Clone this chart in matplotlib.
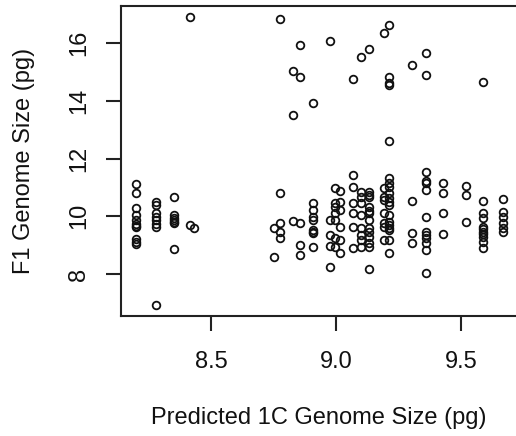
import matplotlib
matplotlib.use("Agg")
import matplotlib.pyplot as plt

# Predicted 1C genome size columns (pg) and the F1 genome sizes observed at each
pred_8_20 = [11.12, 10.80, 10.28, 10.05, 9.88, 9.74, 9.68, 9.62, 9.20, 9.12, 9.04]
pred_8_28 = [10.51, 10.39, 10.11, 9.99, 9.87, 9.73, 9.64, 6.93]
pred_8_35 = [10.68, 10.05, 9.93, 9.88, 9.81, 9.76, 8.87]
pred_8_415 = [9.70, 16.92]
pred_8_43 = [9.58]
pred_8_75 = [9.59, 8.58]
pred_8_775 = [10.80, 9.76, 9.47, 9.24, 16.84]
pred_8_825 = [9.85, 15.05, 13.51]
pred_8_855 = [9.76, 9.01, 8.66, 15.94, 14.84]
pred_8_905 = [10.45, 10.22, 9.99, 9.87, 9.53, 9.47, 9.41, 8.95, 13.92]
pred_8_975 = [9.87, 9.35, 8.97, 8.25, 16.08]
pred_8_995 = [10.97, 10.45, 10.33, 10.11, 9.87, 9.24, 8.93]
pred_9_015 = [10.89, 10.51, 10.22, 9.64, 9.18, 8.74]
pred_9_065 = [11.43, 11.03, 10.45, 10.13, 9.64, 8.89, 14.76]
pred_9_10 = [10.85, 10.68, 10.45, 10.05, 9.59, 9.35, 9.18, 8.93, 15.51]
pred_9_13 = [10.85, 10.75, 10.68, 10.33, 10.20, 10.11, 9.87, 9.59, 9.45, 9.29,
             9.06, 8.93, 8.16, 15.80]
pred_9_19 = [10.97, 10.68, 10.57, 10.11, 9.76, 9.64, 9.18, 16.35]
pred_9_21 = [11.32, 11.15, 11.03, 10.80, 10.63, 10.51, 10.39, 10.05, 9.81, 9.70,
             9.60, 9.53, 9.18, 8.72, 16.63, 14.84, 14.61, 14.55, 12.61]
pred_9_30 = [10.54, 9.41, 9.06, 15.25]
pred_9_36 = [11.55, 11.24, 11.15, 10.91, 9.97, 9.47, 9.35, 9.24, 9.06, 8.83, 8.03,
             15.65, 14.90]
pred_9_425 = [11.17, 10.80, 10.13, 9.39]
pred_9_52 = [11.05, 10.74, 9.81]
pred_9_585 = [10.54, 10.11, 9.93, 9.64, 9.55, 9.47, 9.38, 9.29, 9.12, 8.89, 14.67]
pred_9_665 = [10.59, 10.16, 9.97, 9.76, 9.59, 9.47]

columns = {
    8.20: pred_8_20, 8.28: pred_8_28, 8.35: pred_8_35, 8.415: pred_8_415,
    8.43: pred_8_43, 8.75: pred_8_75, 8.775: pred_8_775, 8.825: pred_8_825,
    8.855: pred_8_855, 8.905: pred_8_905, 8.975: pred_8_975, 8.995: pred_8_995,
    9.015: pred_9_015, 9.065: pred_9_065, 9.10: pred_9_10, 9.13: pred_9_13,
    9.19: pred_9_19, 9.21: pred_9_21, 9.30: pred_9_30, 9.36: pred_9_36,
    9.425: pred_9_425, 9.52: pred_9_52, 9.585: pred_9_585, 9.665: pred_9_665,
}

x_ticks = [8.5, 9.0, 9.5]
x_tick_labels = ["8.5", "9.0", "9.5"]
y_ticks = [8, 10, 12, 14, 16]
y_tick_labels = ["8", "10", "12", "14", "16"]

xs, ys = [], []
for xv, yl in columns.items():
    for yv in yl:
        xs.append(xv)
        ys.append(yv)

plt.rcParams['font.family'] = ['Liberation Sans', 'DejaVu Sans']

W, H = 516, 436
fig = plt.figure(figsize=(W / 100, H / 100), dpi=100)
left_px, right_px, top_px, bottom_px = 121, 517.5, 6, 316
ax = fig.add_axes([left_px / W, (H - bottom_px) / H,
                   (right_px - left_px) / W, (bottom_px - top_px) / H])

ax.plot(xs, ys, linestyle='none', marker='o', markersize=5.5,
        markerfacecolor='none', markeredgecolor='#111111', markeredgewidth=1.3)

ax.set_xlim(8.138, 9.724)
ax.set_ylim(6.544, 17.29)
ax.set_xticks(x_ticks)
ax.set_xticklabels(x_tick_labels)
ax.set_yticks(y_ticks)
ax.set_yticklabels(y_tick_labels)

for sp in ax.spines.values():
    sp.set_linewidth(1.5)
    sp.set_color('#222222')

ax.tick_params(axis='both', length=11, width=1.5, labelsize=17, colors='#222222',
               labelcolor='#111111')
ax.tick_params(axis='x', pad=14)
ax.tick_params(axis='y', pad=11)
for lbl in ax.get_yticklabels():
    lbl.set_rotation(90)
    lbl.set_va('center')
    lbl.set_ha('right')

fig.text(319 / W, (H - 424) / H, "Predicted 1C Genome Size (pg)", fontsize=17,
         ha='center', va='baseline', color='#111111')
fig.text(30 / W, (H - 161) / H, "F1 Genome Size (pg)", fontsize=17, color='#111111',
         rotation=90, rotation_mode='anchor', ha='center', va='baseline')

fig.savefig("out.png", dpi=100)
